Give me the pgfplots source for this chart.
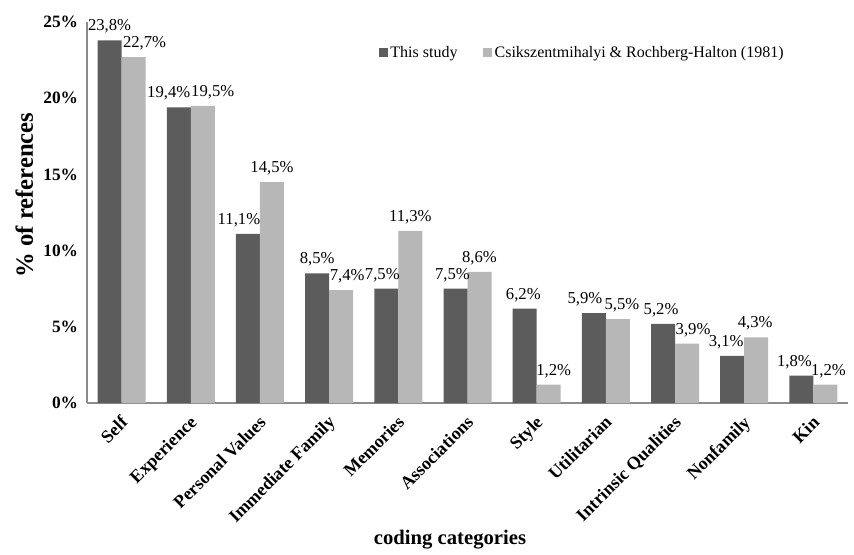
\documentclass[border=0pt]{standalone}
\usepackage{pgfplots}
\pgfplotsset{compat=1.18}
\usepackage{fontspec}
\setmainfont{Liberation Serif}

\definecolor{darkbar}{HTML}{5C5C5C}
\definecolor{lightbar}{HTML}{B7B7B7}
\definecolor{axisgray}{HTML}{8C8C8C}

% Share of references per coding category (percent);
% dxa / dxb nudge the value labels sideways so neighbours do not collide
\pgfplotstableread{
x study crh dxa dxb
0 23.8 22.7 0 8.25
1 19.4 19.5 -7.5 7.5
2 11.1 14.5 -6.75 0
3 8.5 7.4 0 4.5
4 7.5 11.3 -3 0
5 7.5 8.6 -2.25 0
6 6.2 1.2 -1 3.75
7 5.9 5.5 -6.75 3
8 5.2 3.9 -1.5 4.5
9 3.1 4.3 -4.5 -0.75
10 1.8 1.2 -5.25 2.25
}\datatable

\begin{document}
\begin{tikzpicture}
\begin{axis}[
  name=ax,
  scale only axis,
  width=570.75pt, height=285.75pt,
  xmin=-0.5, xmax=10.5,
  ymin=0, ymax=25,
  axis lines=left,
  axis line style={-, axisgray, line width=1.3pt},
  major tick length=0pt,
  clip=false,
  ybar=0pt, bar width=18pt,
  xtick=data,
  xticklabels={Self, Experience, Personal Values, Immediate Family, Memories, Associations, Style, Utilitarian, Intrinsic Qualities, Nonfamily, Kin},
  xticklabel style={font=\fontsize{13.5}{15}\selectfont\bfseries, rotate=45, anchor=north east, inner sep=1pt, xshift=-6pt, yshift=-4pt},
  ytick={0,5,10,15,20,25},
  yticklabels={0\%,5\%,10\%,15\%,20\%,25\%},
  yticklabel style={font=\fontsize{13}{15}\selectfont\bfseries, inner sep=0pt, anchor=east, xshift=-6.5pt},
  ylabel={\% of references},
  ylabel style={font=\fontsize{18.5}{20}\selectfont\bfseries, at={(rel axis cs:0,0.546)}, anchor=center, yshift=47pt},
  xlabel={coding categories},
  xlabel style={font=\fontsize{15.5}{17}\selectfont\bfseries, at={(rel axis cs:0.477,0)}, anchor=center, yshift=-102.5pt},
  nodes near coords={\pgfmathprintnumber{\pgfplotspointmeta}\%},
  nodes near coords style={font=\fontsize{12.5}{14}\selectfont, inner sep=1pt, yshift=4pt},
  /pgf/number format/.cd, use comma, fixed, fixed zerofill, precision=1, assume math mode=true,
  /pgfplots/.cd,
  legend style={draw=none, fill=none, at={(rel axis cs:0.383,0.919)}, anchor=west,
    font=\fontsize{12}{14}\selectfont, legend columns=2, inner sep=0pt,
    /tikz/every even column/.append style={column sep=17pt}},
  legend image code/.code={\fill[#1] (0pt,-3.4pt) rectangle (6.8pt,3.4pt);},
]
\addplot[fill=darkbar, draw=none,
  visualization depends on={\thisrow{dxa} \as \dxa},
  every node near coord/.append style={xshift=\dxa pt}]
  table[x=x, y=study] {\datatable};
\addplot[fill=lightbar, draw=none,
  visualization depends on={\thisrow{dxb} \as \dxb},
  every node near coord/.append style={xshift=\dxb pt}]
  table[x=x, y=crh] {\datatable};
\legend{This study, Csikszentmihalyi \& Rochberg-Halton (1981)}
\end{axis}
\pgfresetboundingbox
\path ([shift={(-65.25pt,-113.25pt)}]ax.south west) rectangle ([shift={(4.5pt,16.5pt)}]ax.north east);
\end{tikzpicture}
\end{document}
